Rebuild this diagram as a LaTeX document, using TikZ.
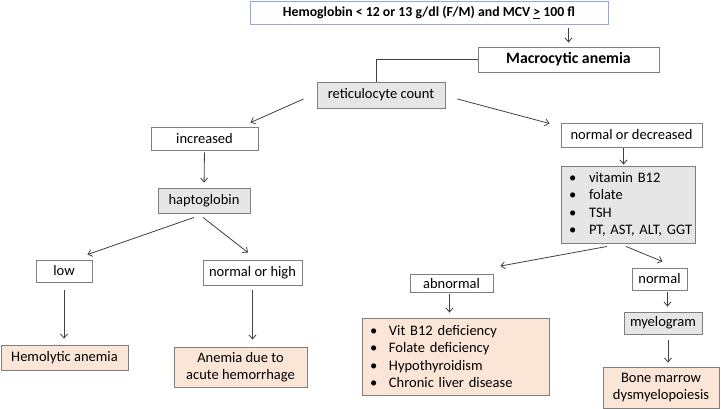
\documentclass[tikz,border=0pt]{standalone}
\usepackage{fontspec}
\setmainfont{Carlito}
\usetikzlibrary{arrows.meta}
\definecolor{boxgray}{RGB}{231,230,230}
\definecolor{boxpeach}{RGB}{251,229,214}
\definecolor{boxblue}{RGB}{143,170,220}
\definecolor{edgegray}{RGB}{127,127,127}
\definecolor{linegray}{RGB}{64,64,64}
\newcommand{\blt}[2]{\mbox{\makebox[#1][l]{\textbullet}#2}}

\begin{document}
\begin{tikzpicture}[x=1pt,y=-1pt,
  every node/.style={font=\fontsize{14.5}{17.5}\selectfont},
  box/.style 2 args={draw=edgegray,line width=0.9pt,inner sep=0pt,minimum width=#1pt,minimum height=#2pt},
  arr/.style={draw=linegray,line width=0.8pt,-{Straight Barb[length=4pt,width=7pt]}},
  ln/.style={draw=linegray,line width=0.8pt}]
  \useasboundingbox (0,0) rectangle (721,409);

  \node[box={358}{23},draw=boxblue,font=\bfseries\fontsize{13.8}{16}\selectfont] (top) at (429,12.5) {Hemoglobin < 12 or 13 g/dl (F/M) and MCV \underline{>} 100 fl};
  \node[box={181}{25},font=\bfseries\fontsize{15.8}{18}\selectfont] (macro) at (568.5,59.5) {Macrocytic anemia};
  \node[box={128}{26},fill=boxgray] (ret) at (381,95) {reticulocyte count};

  \node[box={107}{23}] (inc) at (204.5,138.5) {increased};
  \node[box={92}{25},fill=boxgray] (hapto) at (204,200.5) {haptoglobin};
  \node[box={56}{22}] (low) at (64,271) {low};
  \node[box={99}{25}] (noh) at (252.5,272.5) {normal or high};
  \node[box={127}{25},fill=boxpeach] (hemo) at (64.5,357.5) {Hemolytic anemia};
  \node[box={133}{40},fill=boxpeach,align=center] (hemorr) at (240.5,367) {Anemia due to\\acute hemorrhage};

  \node[box={141}{24}] (nod) at (631.5,135) {normal or decreased};
  \node[box={134}{77},fill=boxgray,align=left,text width=118pt] (tests) at (628,204.5)
    {\blt{20pt}{vitamin B12}\\\blt{20pt}{folate}\\\blt{20pt}{TSH}\\\blt{20pt}{PT, AST, ALT, GGT}};
  \node[box={83}{18}] (abn) at (451.5,283.5) {abnormal};
  \node[box={187}{77},fill=boxpeach,align=left,text width=171pt] (list) at (455.5,356.5)
    {\blt{19pt}{Vit B12 deficiency}\\\blt{19pt}{Folate deficiency}\\\blt{19pt}{Hypothyroidism}\\\blt{19pt}{Chronic liver disease}};
  \node[box={55}{22}] (normal) at (659.5,279) {normal};
  \node[box={78}{22},fill=boxgray] (myelo) at (663,323) {myelogram};
  \node[box={116}{41},fill=boxpeach,align=center] (bm) at (661,387.5) {Bone marrow\\dysmyelopoiesis};

  \draw[arr,shorten <=4pt,shorten >=4pt] (macro.north |- top.south) -- (macro.north);
  \draw[ln] (macro.west) -| ([xshift=-5]ret.north);
  \draw[arr] ([shift={(-13,4)}]ret.west) -- ([shift={(-8,-4)}]inc.north east);
  \draw[arr] ([shift={(12,4)}]ret.east) -- ([shift={(-11,1)}]nod.north west);
  \draw[arr,shorten <=2pt,shorten >=5pt] (inc.south) -- (hapto.north);
  \draw[arr] ([shift={(-10,4)}]hapto.south) -- ([shift={(-5,-5)}]low.north east);
  \draw[arr] ([shift={(-1,4)}]hapto.south) -- ([shift={(-4.5,-7)}]noh.north);
  \draw[arr,shorten <=8pt,shorten >=6pt] (low.south) -- (low.south |- hemo.north);
  \draw[arr,shorten <=5pt,shorten >=7pt] (noh.south) -- (noh.south |- hemorr.north);

  \draw[arr,shorten <=1pt,shorten >=1pt] ([xshift=-8]nod.south) -- ([xshift=-8]nod.south |- tests.north);
  \draw[arr] ([shift={(-21,3)}]tests.south) -- ([shift={(7,-8)}]abn.north east);
  \draw[arr] ([shift={(-2,3)}]tests.south) -- ([shift={(3,-6)}]normal.north);
  \draw[arr,shorten <=1pt,shorten >=5pt] ([xshift=-2]abn.south) -- ([xshift=-2]abn.south |- list.north);
  \draw[arr,shorten <=2pt,shorten >=5pt] ([xshift=8]normal.south) -- ([xshift=8]normal.south |- myelo.north);
  \draw[arr,shorten <=6pt,shorten >=4pt] ([xshift=5]myelo.south) -- ([xshift=5]myelo.south |- bm.north);
\end{tikzpicture}
\end{document}
